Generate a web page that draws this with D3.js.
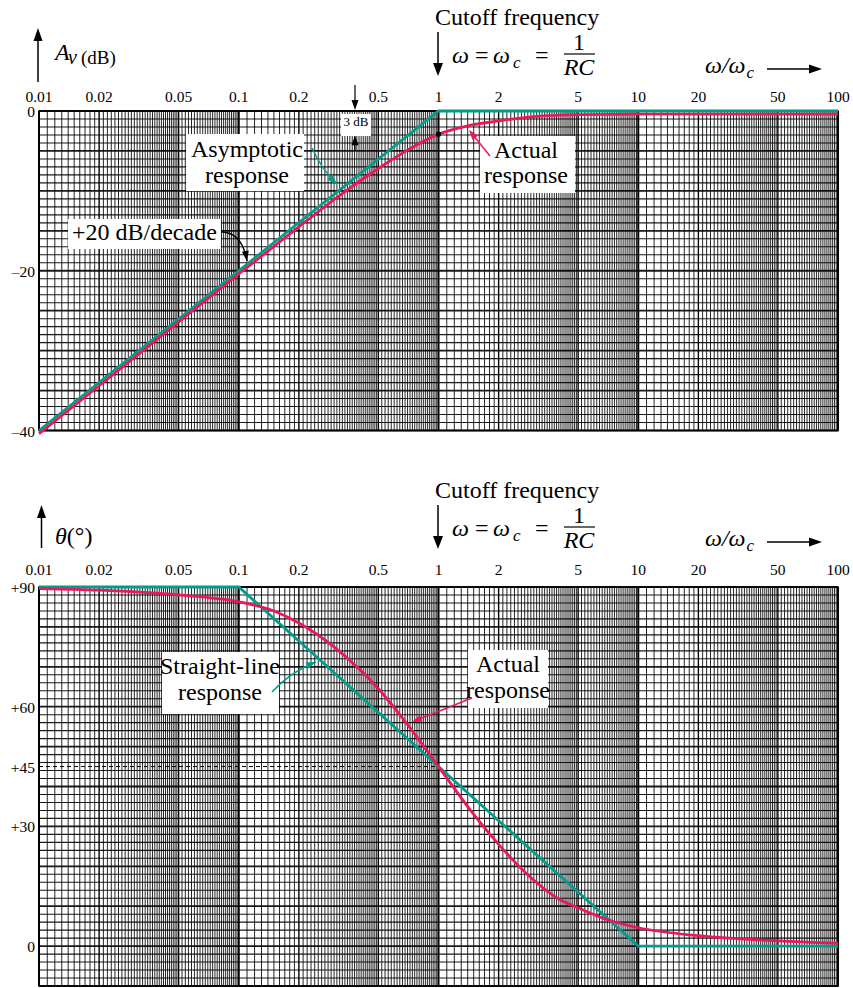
<!DOCTYPE html>
<html><head><meta charset="utf-8">
<script src="https://cdn.jsdelivr.net/npm/d3@7"></script>
<style>
body{margin:0;background:#fff}
svg{display:block}
text{font-family:"Liberation Serif","Times New Roman",Times,serif;fill:#000}
</style>
</head><body>
<svg id="c" width="853" height="988" font-family="Liberation Serif, Times New Roman, serif"></svg>
<script>
// ---------------- data ----------------
const xTickValues = [0.01, 0.02, 0.05, 0.1, 0.2, 0.5, 1, 2, 5, 10, 20, 50, 100];
const xTickLabels = ["0.01", "0.02", "0.05", "0.1", "0.2", "0.5", "1", "2", "5", "10", "20", "50", "100"];
const magTickValues = [0, -20, -40];
const magTickLabels = ["0", "–20", "–40"];
const phaseTickValues = [90, 60, 45, 30, 0];
const phaseTickLabels = ["+90", "+60", "+45", "+30", "0"];

const magAsymW  = [0.01, 1, 100];
const magAsymDb = [-40, 0, 0];
const magActualW  = [0.01, 0.02, 0.05, 0.1, 0.2, 0.3, 0.5, 0.7, 1, 1.4, 2, 3, 5, 10, 20, 100];
const magActualDb = [-40.4, -34.4, -26.4, -20.4, -14.5, -11.1, -7.2, -4.9, -2.9, -1.85, -1.25, -0.7, -0.45, -0.4, -0.38, -0.38];

const phaseLineW   = [0.01, 0.1, 10, 100];
const phaseLineDeg = [90, 90, 0, 0];
const phaseActualW   = [0.01, 0.02, 0.05, 0.1, 0.15, 0.2, 0.3, 0.4, 0.5, 0.7, 1, 1.5, 2, 3, 4, 5, 7, 10, 20, 50, 100];
const phaseActualDeg = [89.6, 89.2, 88.0, 86.3, 84.0, 81.0, 75.0, 69.5, 64.5, 55.5, 45, 33, 25.5, 16.5, 11.8, 9.6, 6.6, 4.6, 2.6, 1.3, 0.7];

// ---------------- setup ----------------
const TEAL = "#009E8A", RED = "#E8185C";
const svg = d3.select("#c");
svg.append("rect").attr("width", 853).attr("height", 988).attr("fill", "#fff");

const x = d3.scaleLog().domain([0.01, 100]).range([39, 838]);
const yMag = d3.scaleLinear().domain([-40, 0]).range([430.5, 111]);
const yPh = d3.scaleLinear().domain([-10, 90]).range([986, 587]);

// grid multipliers within a decade (semi-log paper)
function gridValues() {
  const v = [];
  for (let d = -2; d < 2; d++) {
    const base = Math.pow(10, d);
    for (let i = 10; i < 50; i++) v.push({v: base * i / 10, k: i === 10 ? 2 : (i === 20 ? 1 : 0)});
    for (let i = 50; i < 100; i += 2) v.push({v: base * i / 10, k: i === 50 ? 1 : 0});
  }
  v.push({v: 100, k: 2});
  return v;
}
const gv = gridValues();

function drawGrid(y, yMin, yMax, step, majorEvery) {
  const g = svg.append("g");
  const [top, bot] = [y(yMax), y(yMin)];
  g.selectAll("line.v").data(gv).enter().append("line")
    .attr("x1", d => x(d.v)).attr("x2", d => x(d.v))
    .attr("y1", top).attr("y2", bot)
    .attr("stroke", "#000")
    .attr("stroke-opacity", d => d.k ? 1 : 0.85)
    .attr("stroke-width", d => d.k === 2 ? 2 : (d.k === 1 ? 1.4 : 1));
  const hv = d3.range(yMin, yMax + 0.001, step);
  g.selectAll("line.h").data(hv).enter().append("line")
    .attr("x1", x(0.01)).attr("x2", x(100))
    .attr("y1", d => y(d)).attr("y2", d => y(d))
    .attr("stroke", "#000")
    .attr("stroke-opacity", 0.9)
    .attr("stroke-width", d => (Math.round(d / step) % majorEvery === 0) ? 1.8 : 1.1);
  g.append("rect").attr("x", x(0.01)).attr("y", top).attr("width", x(100) - x(0.01)).attr("height", bot - top)
    .attr("fill", "none").attr("stroke", "#000").attr("stroke-width", 1.5);
}

function arrowHead(g, x1, y1, x2, y2, color, len, hw) {
  const a = Math.atan2(y2 - y1, x2 - x1);
  const bx = x2 - len * Math.cos(a), by = y2 - len * Math.sin(a);
  const px = -Math.sin(a) * hw, py = Math.cos(a) * hw;
  g.append("path").attr("d", `M${x2},${y2}L${bx + px},${by + py}L${bx - px},${by - py}Z`).attr("fill", color);
}
function straightArrow(g, x1, y1, x2, y2, color, w, len, hw) {
  const a = Math.atan2(y2 - y1, x2 - x1);
  g.append("line").attr("x1", x1).attr("y1", y1).attr("x2", x2 - (len - 2) * Math.cos(a)).attr("y2", y2 - (len - 2) * Math.sin(a))
    .attr("stroke", color).attr("stroke-width", w);
  arrowHead(g, x1, y1, x2, y2, color, len, hw);
}
function curvedArrow(g, x1, y1, cx, cy, x2, y2, color, w, len, hw) {
  g.append("path").attr("d", `M${x1},${y1}Q${cx},${cy} ${x2},${y2}`).attr("fill", "none")
    .attr("stroke", color).attr("stroke-width", w);
  arrowHead(g, cx, cy, x2, y2, color, len, hw);
}

function header(dy, tickBase) {
  const g = svg.append("g");
  g.append("text").attr("x", 435).attr("y", 25 + dy).attr("font-size", 24).text("Cutoff frequency");
  straightArrow(g, 438, 32 + dy, 438, 76 + dy, "#000", 1.5, 13, 5);
  const it = (t, xx, yy, fs, anchor) => g.append("text").attr("x", xx).attr("y", yy).attr("font-size", fs)
      .attr("font-style", "italic").attr("text-anchor", anchor || "start").text(t);
  it("ω", 452, 63 + dy, 24);
  g.append("text").attr("x", 475).attr("y", 63 + dy).attr("font-size", 24).text("=");
  const w2 = g.append("text").attr("x", 493).attr("y", 63 + dy).attr("font-size", 24).attr("font-style", "italic");
  w2.append("tspan").text("ω");
  w2.append("tspan").attr("dx", 3).attr("dy", 5).attr("font-size", 17).text("c");
  g.append("text").attr("x", 535).attr("y", 63 + dy).attr("font-size", 24).text("=");
  g.append("text").attr("x", 579).attr("y", 50 + dy).attr("font-size", 24).attr("text-anchor", "middle").text("1");
  g.append("line").attr("x1", 564).attr("x2", 595).attr("y1", 54 + dy).attr("y2", 54 + dy).attr("stroke", "#000").attr("stroke-width", 1.2);
  it("RC", 579, 75 + dy, 24, "middle");
  const w3 = g.append("text").attr("x", 705).attr("y", 73 + dy).attr("font-size", 24).attr("font-style", "italic");
  w3.append("tspan").text("ω/ω");
  w3.append("tspan").attr("dx", 1).attr("dy", 5).attr("font-size", 17).text("c");
  straightArrow(g, 767, 69 + dy, 822, 69 + dy, "#000", 1.3, 13, 4.5);
  g.selectAll("text.tick").data(xTickValues).enter().append("text")
    .attr("x", d => x(d)).attr("y", tickBase).attr("font-size", 15.5).attr("text-anchor", "middle")
    .text((d, i) => xTickLabels[i]);
}

function yLabels(y, vals, labels) {
  svg.append("g").selectAll("text").data(vals).enter().append("text")
    .attr("x", 35).attr("y", d => y(d) + 6).attr("font-size", 15.5).attr("text-anchor", "end")
    .text((d, i) => labels[i]);
}

function labelBox(bx, by, bw, bh, lines, fs) {
  const g = svg.append("g");
  g.append("rect").attr("x", bx).attr("y", by).attr("width", bw).attr("height", bh).attr("fill", "#fff");
  lines.forEach(l => g.append("text").attr("x", l[0]).attr("y", l[1]).attr("font-size", fs)
    .attr("text-anchor", l[2] || "middle").text(l[3]));
  return g;
}

const line = (y) => d3.line().x(d => x(d[0])).y(d => y(d[1]));
const lineSmooth = (y) => d3.line().x(d => x(d[0])).y(d => y(d[1])).curve(d3.curveMonotoneX);

// ================= TOP: magnitude =================
drawGrid(yMag, -40, 0, 1, 5);
header(0, 101.5);
yLabels(yMag, magTickValues, magTickLabels);

// y-axis title
{
  const g = svg.append("g");
  straightArrow(g, 38, 82, 38, 28, "#000", 1.5, 13, 4.5);
  g.append("text").attr("x", 55).attr("y", 60).attr("font-size", 24).attr("font-style", "italic").text("A");
  g.append("text").attr("x", 68).attr("y", 64).attr("font-size", 20).attr("font-style", "italic").text("v");
  g.append("text").attr("x", 81).attr("y", 64).attr("font-size", 19).text("(dB)");
}

// label boxes (under curves)
labelBox(186, 134, 118, 57, [[247, 157, "middle", "Asymptotic"], [247, 183, "middle", "response"]], 24);
labelBox(480, 136, 95, 57, [[526, 158, "middle", "Actual"], [526, 183, "middle", "response"]], 24);
labelBox(68, 219, 153, 30, [[72, 240, "start", "+20 dB/decade"]], 24);

// curves
svg.append("path").datum(magAsymW.map((w, i) => [w, magAsymDb[i]]))
  .attr("d", line(yMag)).attr("fill", "none").attr("stroke", TEAL).attr("stroke-width", 2.8);
svg.append("path").datum(magActualW.map((w, i) => [w, magActualDb[i]]))
  .attr("d", lineSmooth(yMag)).attr("fill", "none").attr("stroke", RED).attr("stroke-width", 2.8);
svg.append("circle").attr("cx", x(1)).attr("cy", yMag(-2.9)).attr("r", 2.6).attr("fill", "#000");

// leaders
{
  const g = svg.append("g");
  curvedArrow(g, 312, 148, 322, 170, 337, 184, TEAL, 1.5, 10, 3.5);
  straightArrow(g, 490, 156, 469, 130, RED, 1.5, 10, 3.5);
  curvedArrow(g, 221, 232, 242, 232, 247, 261, "#000", 1.3, 10, 3.5);
  // 3 dB marker
  labelBox(341, 114, 30, 22, [[356, 126, "middle", "3 dB"]], 13);
  straightArrow(g, 355, 85, 355, 110, "#000", 1.2, 10, 3.5);
  g.append("line").attr("x1", 349).attr("x2", 362).attr("y1", yMag(-2.9)).attr("y2", yMag(-2.9)).attr("stroke", "#000").attr("stroke-width", 1.5);
  straightArrow(g, 355, 150, 355, yMag(-2.9) + 1, "#000", 1.2, 10, 3.5);
}

// ================= BOTTOM: phase =================
drawGrid(yPh, -10, 90, 2, 5);
header(473, 575);
yLabels(yPh, phaseTickValues, phaseTickLabels);
{
  const g = svg.append("g");
  straightArrow(g, 41.5, 548, 41.5, 505, "#000", 1.5, 13, 4.5);
  const t = g.append("text").attr("x", 55).attr("y", 544).attr("font-size", 24);
  t.append("tspan").attr("font-style", "italic").text("θ");
  t.append("tspan").text("(°)");
}
// +45 dashed reference
svg.append("line").attr("x1", x(0.01)).attr("x2", x(1)).attr("y1", yPh(45)).attr("y2", yPh(45))
  .attr("stroke", "#000").attr("stroke-width", 1).attr("stroke-dasharray", "4,3");

labelBox(162, 652, 117, 62, [[220, 674, "middle", "Straight-line"], [220, 700, "middle", "response"]], 24);
labelBox(468, 650, 80, 58, [[508, 672, "middle", "Actual"], [508, 698, "middle", "response"]], 24);

svg.append("path").datum(phaseLineW.map((w, i) => [w, phaseLineDeg[i]]))
  .attr("d", line(yPh)).attr("fill", "none").attr("stroke", TEAL).attr("stroke-width", 2.8);
svg.append("path").datum(phaseActualW.map((w, i) => [w, phaseActualDeg[i]]))
  .attr("d", lineSmooth(yPh)).attr("fill", "none").attr("stroke", RED).attr("stroke-width", 2.8);

{
  const g = svg.append("g");
  curvedArrow(g, 272, 692, 290, 672, 316, 662, TEAL, 1.5, 10, 3.5);
  straightArrow(g, 472, 698, 412, 722, RED, 1.5, 10, 3.5);
}
</script>
</body></html>
